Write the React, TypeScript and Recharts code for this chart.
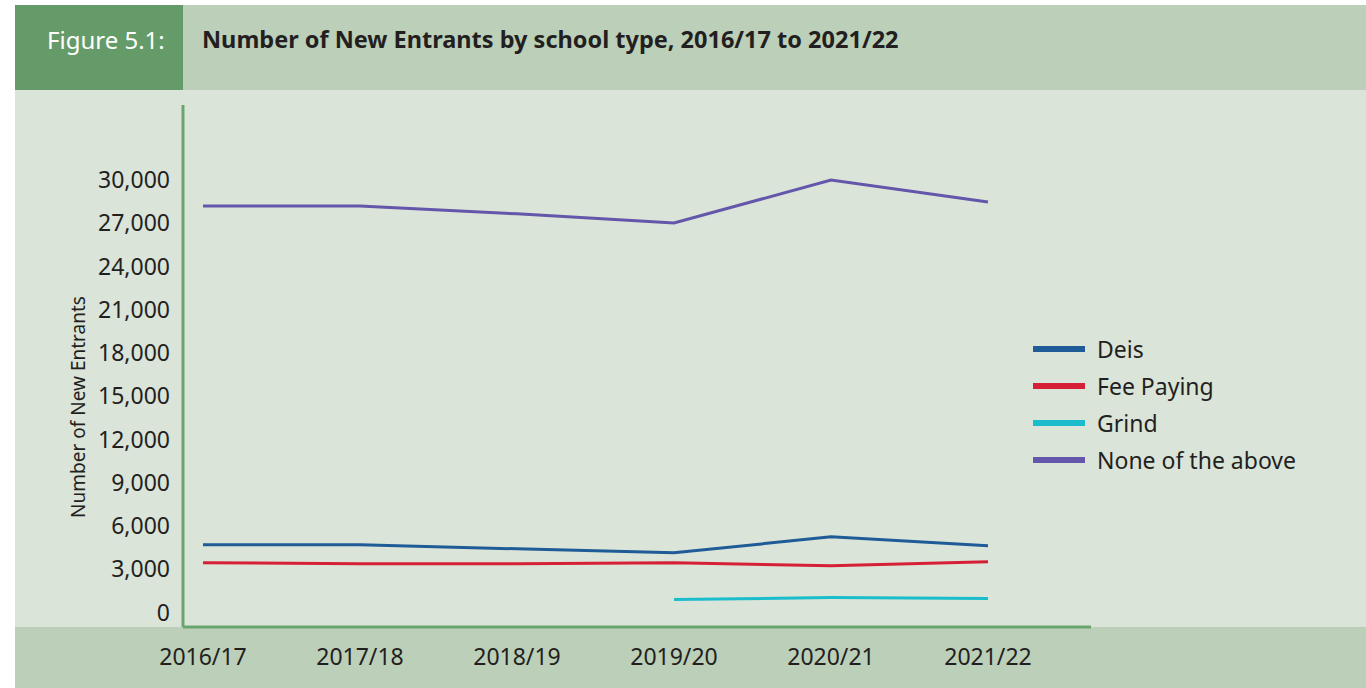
import React from 'react'
import { LineChart, Line, XAxis, YAxis, Legend, Label } from 'recharts'

const years = ['2016/17', '2017/18', '2018/19', '2019/20', '2020/21', '2021/22']
const deis = [4700, 4700, 4420, 4150, 5250, 4630]
const feePaying = [3450, 3390, 3390, 3450, 3250, 3520]
const grind = [null, null, null, 900, 1040, 970]
const noneOfAbove = [28200, 28200, 27650, 27020, 29990, 28470]
const yTicks = [0, 3000, 6000, 9000, 12000, 15000, 18000, 21000, 24000, 27000, 30000]

const data = years.map((year, i) => ({
    year,
    deis: deis[i],
    fee: feePaying[i],
    grind: grind[i],
    none: noneOfAbove[i],
}))

const FONT = '"Noto Sans", sans-serif'
const TEXT = '#231f20'

function LegendList({ payload }: any) {
    return (
        <div style={{ fontFamily: FONT }}>
            {(payload || []).map((p: any) => (
                <div key={p.value} style={{ display: 'flex', alignItems: 'center', height: 37 }}>
                    <div style={{ width: 52, height: 6, background: p.color, marginRight: 12 }} />
                    <span style={{ fontSize: 23, color: TEXT }}>{p.value}</span>
                </div>
            ))}
        </div>
    )
}

function App() {
    return (
        <div style={{ position: 'absolute', left: 0, top: 0, width: 1366, height: 688, background: '#fff', fontFamily: FONT }}>
            {/* header */}
            <div style={{ position: 'absolute', left: 15, top: 5, width: 168, height: 85, background: '#659b69' }} />
            <div style={{ position: 'absolute', left: 183, top: 5, width: 1183, height: 85, background: '#bccfb9' }} />
            <div style={{ position: 'absolute', left: 47, top: 23, color: '#fff', fontSize: 24 }}>Figure 5.1:</div>
            <div style={{ position: 'absolute', left: 202, top: 23, color: TEXT, fontSize: 23.5, fontWeight: 700 }}>
                Number of New Entrants by school type, 2016/17 to 2021/22
            </div>
            {/* chart body + bottom band */}
            <div style={{ position: 'absolute', left: 15, top: 90, width: 1351, height: 537, background: '#dae4d9' }} />
            <div style={{ position: 'absolute', left: 15, top: 627, width: 1351, height: 61, background: '#bccfb9' }} />

            <div style={{ position: 'absolute', left: 15, top: 90 }}>
                <LineChart width={1351} height={598} data={data}
                    margin={{ top: 15, right: 275, left: 0, bottom: 0 }}>
                    <XAxis dataKey="year" height={61} padding={{ left: 20, right: 103 }} interval={0}
                        axisLine={{ stroke: '#6aa56f', strokeWidth: 3 }} tickLine={false} tickSize={0} tickMargin={22}
                        tick={{ fontSize: 23, fill: TEXT, fontFamily: FONT }} />
                    <YAxis width={168} domain={[-1000, 35200]} ticks={yTicks} interval={0} allowDataOverflow
                        tickFormatter={(v: number) => v.toLocaleString('en-US')}
                        axisLine={{ stroke: '#6aa56f', strokeWidth: 3 }} tickLine={false} tickSize={0} tickMargin={13}
                        tick={{ fontSize: 23, fill: TEXT, fontFamily: FONT }}>
                        <Label content={({ viewBox }: any) => {
                            const x = viewBox.x + 63
                            const y = viewBox.y + viewBox.height / 2 + 41
                            return (
                                <text x={x} y={y} transform={`rotate(-90, ${x}, ${y})`} textAnchor="middle"
                                    dominantBaseline="central" fontSize={19} fill={TEXT} fontFamily={FONT}>
                                    Number of New Entrants
                                </text>
                            )
                        }} />
                    </YAxis>
                    <Legend layout="vertical" align="center" verticalAlign="middle" content={<LegendList />}
                        wrapperStyle={{ position: 'absolute', left: 1018, top: 240.5, width: 300 }} />
                    <Line dataKey="deis" name="Deis" stroke="#1f5b96" strokeWidth={3} dot={false} isAnimationActive={false} />
                    <Line dataKey="fee" name="Fee Paying" stroke="#d51f36" strokeWidth={3} dot={false} isAnimationActive={false} />
                    <Line dataKey="grind" name="Grind" stroke="#1bbccb" strokeWidth={3} dot={false} isAnimationActive={false} />
                    <Line dataKey="none" name="None of the above" stroke="#6356ab" strokeWidth={3} dot={false} isAnimationActive={false} />
                </LineChart>
            </div>
        </div>
    )
}

export default App
